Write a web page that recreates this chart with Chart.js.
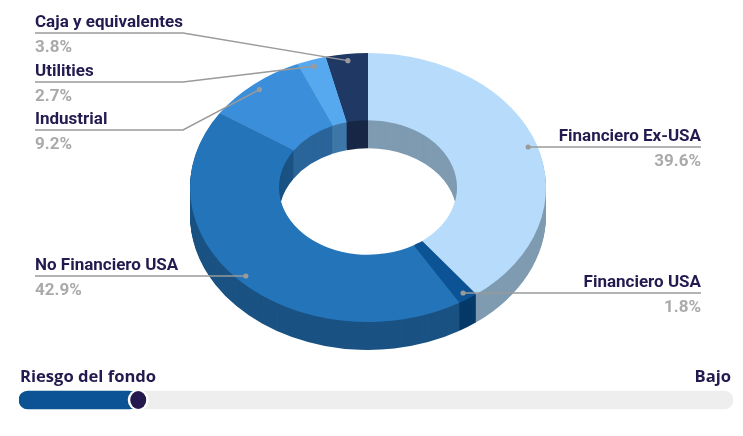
<!DOCTYPE html>
<html>
<head>
<meta charset="utf-8">
<script src="https://cdn.jsdelivr.net/npm/chart.js@4.4.0/dist/chart.umd.min.js"></script>
<style>
  html, body { margin: 0; padding: 0; background: #fff; }
  #wrap { position: relative; width: 743px; height: 436px; overflow: hidden; }
  #pie { position: absolute; left: 0; top: 0; }
  #risk { position: absolute; left: 0; top: 380px; }
  .risk-label {
    position: absolute; top: 366px;
    font-family: "Open Sans", sans-serif; font-weight: 700; font-size: 16.6px;
    color: #231a4f; line-height: 20px;
  }
</style>
</head>
<body>
<div id="wrap">
  <canvas id="pie" width="743" height="380"></canvas>
  <div class="risk-label" id="riskTitle" style="left:20px"></div>
  <div class="risk-label" id="riskLevel" style="right:12px"></div>
  <canvas id="risk" width="743" height="40"></canvas>
</div>

<script>
// --- data ---
const sectors = ['Financiero Ex-USA', 'Financiero USA', 'No Financiero USA', 'Industrial', 'Utilities', 'Caja y equivalentes'];
const weights = [39.6, 1.8, 42.9, 9.2, 2.7, 3.8];

const riskTitle = 'Riesgo del fondo';
const riskLevelName = 'Bajo';
const riskValue = 16.7;   // position on a 0-100 scale
const riskMax = 100;

// --- style ---
const topColors  = ['#b7dcfb', '#0b5394', '#2474ba', '#3b8fda', '#57a9ef', '#1f3864'];
const sideColors = ['#7f9bb1', '#063a68', '#1a5283', '#2a659a', '#3e78a9', '#172846'];
const NAME_COLOR = '#231b50';
const PCT_COLOR = '#aaaaaa';
const LINE_COLOR = '#9a9a9a';

const depth = 28;            // height of the extruded side, px
const tilt = 134.5 / 178;    // vertical squash of the top face

// where each label sits (same order as sectors)
const labelLayout = [
  { side: 'right', lineY: 147 },
  { side: 'right', lineY: 293 },
  { side: 'left',  lineY: 276 },
  { side: 'left',  lineY: 130, kneeX: 183 },
  { side: 'left',  lineY: 82,  kneeX: 183 },
  { side: 'left',  lineY: 33,  kneeX: 183 }
];
const LEFT_X = 35;
const RIGHT_X = 701;

function arcPath(ctx, p, dy) {
  ctx.beginPath();
  ctx.arc(p.x, p.y + dy, p.outerRadius, p.startAngle, p.endAngle);
  ctx.arc(p.x, p.y + dy, p.innerRadius, p.endAngle, p.startAngle, true);
  ctx.closePath();
}

// squash the doughnut into an ellipse and build the side wall under it
const pie3d = {
  id: 'pie3d',
  beforeDatasetsDraw(chart) {
    const { ctx } = chart;
    const arcs = chart.getDatasetMeta(0).data;
    const cx = arcs[0].x, cy = arcs[0].y;
    ctx.save();
    ctx.translate(cx, cy);
    ctx.scale(1, tilt);
    ctx.translate(-cx, -cy);
    for (let d = depth; d >= 1; d--) {
      arcs.forEach((arc, i) => {
        const p = arc.getProps(['x', 'y', 'startAngle', 'endAngle', 'innerRadius', 'outerRadius'], true);
        arcPath(ctx, p, d / tilt);
        ctx.fillStyle = sideColors[i];
        ctx.fill();
      });
    }
  },
  afterDatasetsDraw(chart) {
    chart.ctx.restore();
  }
};

// leader lines + labels
const calloutPlugin = {
  id: 'callouts',
  afterDraw(chart) {
    const { ctx } = chart;
    const arcs = chart.getDatasetMeta(0).data;
    ctx.save();
    arcs.forEach((arc, i) => {
      const p = arc.getProps(['x', 'y', 'startAngle', 'endAngle', 'outerRadius'], true);
      const mid = (p.startAngle + p.endAngle) / 2;
      const r = p.outerRadius * 0.95;
      const dx = p.x + r * Math.cos(mid);
      const dy = p.y + tilt * r * Math.sin(mid);
      const lay = labelLayout[i];
      const edgeX = lay.side === 'left' ? LEFT_X : RIGHT_X;

      ctx.strokeStyle = LINE_COLOR;
      ctx.lineWidth = 1.5;
      ctx.beginPath();
      ctx.moveTo(edgeX, lay.lineY);
      if (lay.kneeX) {
        ctx.lineTo(lay.kneeX, lay.lineY);
        ctx.lineTo(dx, dy);
      } else {
        ctx.lineTo(dx, lay.lineY);
      }
      ctx.stroke();

      ctx.fillStyle = LINE_COLOR;
      ctx.beginPath();
      ctx.arc(dx, lay.kneeX ? dy : lay.lineY, 2.6, 0, Math.PI * 2);
      ctx.fill();

      ctx.textAlign = lay.side === 'left' ? 'left' : 'right';
      ctx.textBaseline = 'alphabetic';
      ctx.font = '700 17px Roboto';
      ctx.fillStyle = NAME_COLOR;
      ctx.fillText(sectors[i], edgeX, lay.lineY - 6);
      ctx.fillStyle = PCT_COLOR;
      ctx.fillText(weights[i].toFixed(1) + '%', edgeX, lay.lineY + 19);
    });
    ctx.restore();
  }
};

new Chart(document.getElementById('pie'), {
  type: 'doughnut',
  plugins: [pie3d, calloutPlugin],
  data: {
    labels: sectors,
    datasets: [{
      data: weights,
      backgroundColor: topColors,
      borderWidth: 0,
      hoverOffset: 0
    }]
  },
  options: {
    responsive: false,
    animation: false,
    cutout: '50%',
    layout: { padding: { left: 190, right: 197, top: 9.5, bottom: 14.5 } },
    plugins: {
      legend: { display: false },
      tooltip: { enabled: false }
    }
  }
});

// --- risk meter ---
document.getElementById('riskTitle').textContent = riskTitle;
document.getElementById('riskLevel').textContent = riskLevelName;

const knobPlugin = {
  id: 'knob',
  afterDatasetsDraw(chart) {
    const { ctx, scales } = chart;
    const x = scales.x.getPixelForValue(riskValue);
    const y = scales.y.getPixelForValue(0);
    ctx.save();
    ctx.fillStyle = '#ffffff';
    ctx.beginPath();
    ctx.arc(x, y, 10.5, 0, Math.PI * 2);
    ctx.fill();
    ctx.fillStyle = '#241a4f';
    ctx.beginPath();
    ctx.ellipse(x, y, 8, 9, 0, 0, Math.PI * 2);
    ctx.fill();
    ctx.restore();
  }
};

new Chart(document.getElementById('risk'), {
  type: 'bar',
  plugins: [knobPlugin],
  data: {
    labels: [riskTitle],
    datasets: [
      { data: [riskValue], backgroundColor: '#0b5394', order: 1 },
      { data: [riskMax], backgroundColor: '#eeeeee', order: 2 }
    ]
  },
  options: {
    indexAxis: 'y',
    responsive: false,
    animation: false,
    layout: { padding: { left: 19, right: 10, top: 0, bottom: 0 } },
    datasets: {
      bar: { grouped: false, barThickness: 18, borderRadius: 9, borderSkipped: false }
    },
    scales: {
      x: { display: false, min: 0, max: riskMax },
      y: { display: false }
    },
    plugins: {
      legend: { display: false },
      tooltip: { enabled: false }
    }
  }
});
</script>
</body>
</html>
